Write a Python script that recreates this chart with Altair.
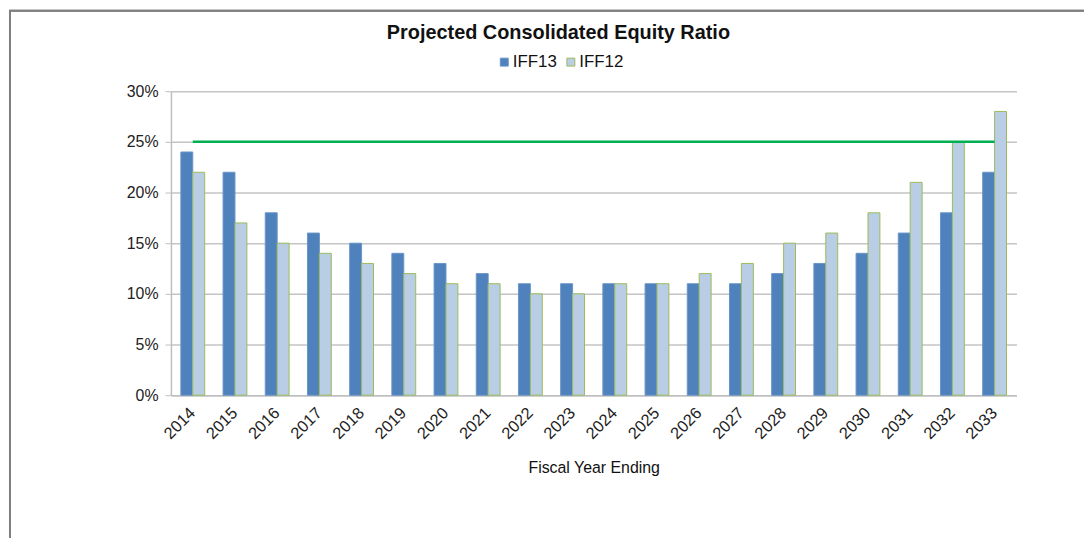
import altair as alt
import pandas as pd

years = [str(y) for y in range(2014, 2034)]
iff13 = [24, 22, 18, 16, 15, 14, 13, 12, 11, 11, 11, 11, 11, 11, 12, 13, 14, 16, 18, 22]
iff12 = [22, 17, 15, 14, 13, 12, 11, 11, 10, 10, 11, 11, 12, 13, 15, 16, 18, 21, 25, 28]
series = ["IFF13", "IFF12"]
target_years = ["2014", "2033"]
target_value = [25, 25]
title_text = ["Projected Consolidated Equity Ratio"]

rows = []
for i, y in enumerate(years):
    rows.append({"year": y, "series": "IFF13", "value": iff13[i] / 100})
    rows.append({"year": y, "series": "IFF12", "value": iff12[i] / 100})
df = pd.DataFrame(rows)
target_df = pd.DataFrame({"year": target_years, "value": [v / 100 for v in target_value]})
title_df = pd.DataFrame({"t": title_text})

FONT = "Liberation Sans"
W, H = 851, 306
FS = 16

xscale = alt.Scale(domain=years, paddingInner=0.435, paddingOuter=0.235)
yscale = alt.Scale(domain=[0, 0.30])

leg = alt.Legend(title=None, orient="none", direction="horizontal",
                 legendX=327, legendY=-38, symbolType="square",
                 symbolSize=64, labelFontSize=17, labelColor="#111111",
                 columnPadding=5, labelOffset=0, symbolStrokeWidth=1)

bars = alt.Chart(df).mark_bar(strokeWidth=1).encode(
    x=alt.X("year:N", scale=xscale, sort=years,
            axis=alt.Axis(title="Fiscal Year Ending", labelAngle=-45, labelAlign="right",
                          labelBaseline="middle", labelFontSize=16.5, labelColor="#222222",
                          labelPadding=15, ticks=False, domainColor="#bfbfbf", domainWidth=1.5,
                          titleFontSize=FS, titleFontWeight="normal", titleColor="#111111",
                          titlePadding=18, grid=False)),
    xOffset=alt.XOffset("series:N", sort=series, scale=alt.Scale(domain=series)),
    y=alt.Y("value:Q", scale=yscale,
            axis=alt.Axis(title=None, format=".0%", values=[0, 0.05, 0.10, 0.15, 0.20, 0.25, 0.30],
                          labelFontSize=FS, labelColor="#222222", labelPadding=7,
                          tickSize=6, tickColor="#bfbfbf", domainColor="#bfbfbf", domainWidth=1.5,
                          gridColor="#c4c4c4", gridWidth=1.5)),
    color=alt.Color("series:N", sort=series,
                    scale=alt.Scale(domain=series, range=["#4f81bd", "#b9cde5"]),
                    legend=leg),
    stroke=alt.Stroke("series:N", sort=series,
                      scale=alt.Scale(domain=series, range=["#6a95c8", "#9bbb59"]),
                      legend=leg),
)

target = alt.Chart(target_df).mark_line(color="#00b050", strokeWidth=2.5).encode(
    x=alt.X("year:N", scale=xscale, sort=years),
    y=alt.Y("value:Q", scale=yscale),
)

frame = alt.Chart(target_df).mark_rect(fill=None, stroke="#7f7f7f", strokeWidth=2).encode(
    x=alt.value(-162), x2=alt.value(1200), y=alt.value(-81), y2=alt.value(600)
)

title = alt.Chart(title_df).mark_text(fontSize=20, fontWeight="bold", font=FONT,
                                      color="#111111", align="center", baseline="alphabetic").encode(
    text="t:N", x=alt.value(390), y=alt.value(-53)
)

chart = alt.layer(frame, bars, target, title).properties(
    width=W, height=H,
    autosize=alt.AutoSizeParams(type="none"),
    padding={"left": 164, "top": 82, "right": 68, "bottom": 142},
).configure(font=FONT).configure_view(stroke=None).configure_axis(
    labelFont=FONT, titleFont=FONT
).configure_legend(labelFont=FONT)

chart.save("out.html", embed_options={"renderer": "svg", "actions": False})
